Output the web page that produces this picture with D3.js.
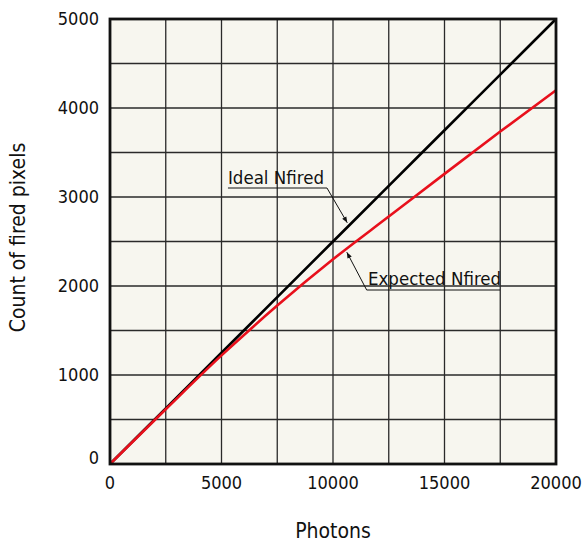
<!DOCTYPE html>
<html>
<head>
<meta charset="utf-8">
<script src="https://cdn.jsdelivr.net/npm/d3@7"></script>
<style>
  body { margin: 0; background: #fff; }
  text { font-family: "DejaVu Sans Condensed", "DejaVu Sans", sans-serif; fill: #111; }
</style>
</head>
<body>
<div id="wrapper"></div>
<script>
// data
const photons = [0, 2500, 5000, 7500, 10000, 12500, 15000, 17500, 20000]
const idealNfired = [0, 625, 1250, 1875, 2500, 3125, 3750, 4375, 5000]
const expectedNfired = [0, 615, 1220, 1780, 2300, 2780, 3260, 3735, 4200]

const xTicks = [0, 5000, 10000, 15000, 20000]
const yTicks = [0, 1000, 2000, 3000, 4000, 5000]

// labels with leader lines (data units)
const labels = [
  { text: "Ideal Nfired", tx: 5290, ty: 3146, lx1: 5290, lx2: 9730, ly: 3101, ax: 10640, ay: 2710 },
  { text: "Expected Nfired", tx: 11570, ty: 2011, lx1: 11510, lx2: 17490, ly: 1955, ax: 10620, ay: 2380 },
]

function drawChart() {
  const dims = {
    width: 586,
    height: 545,
    margin: { top: 19, right: 30, bottom: 81, left: 110 }
  }
  dims.boundedWidth = dims.width - dims.margin.left - dims.margin.right
  dims.boundedHeight = dims.height - dims.margin.top - dims.margin.bottom

  const svg = d3.select("#wrapper").append("svg")
    .attr("width", dims.width)
    .attr("height", dims.height)

  const defs = svg.append("defs")
  defs.append("marker")
    .attr("id", "arrow")
    .attr("viewBox", "0 0 10 10")
    .attr("refX", 10).attr("refY", 5)
    .attr("markerWidth", 8).attr("markerHeight", 6)
    .attr("markerUnits", "userSpaceOnUse")
    .attr("orient", "auto")
    .append("path")
    .attr("d", "M0,1 L10,5 L0,9 Z")
    .attr("fill", "#111")

  const bounds = svg.append("g")
    .attr("transform", `translate(${dims.margin.left},${dims.margin.top})`)

  const xScale = d3.scaleLinear().domain([0, 20000]).range([0, dims.boundedWidth])
  const yScale = d3.scaleLinear().domain([0, 5000]).range([dims.boundedHeight, 0])

  bounds.append("rect")
    .attr("width", dims.boundedWidth)
    .attr("height", dims.boundedHeight)
    .attr("fill", "#f7f6ef")

  // grid
  bounds.append("g")
    .selectAll("line")
    .data(d3.range(2500, 20000, 2500))
    .join("line")
    .attr("x1", d => xScale(d)).attr("x2", d => xScale(d))
    .attr("y1", 0).attr("y2", dims.boundedHeight)
    .attr("stroke", "#2a2a2a").attr("stroke-width", 1.3)

  bounds.append("g")
    .selectAll("line")
    .data(d3.range(500, 5000, 500))
    .join("line")
    .attr("y1", d => yScale(d)).attr("y2", d => yScale(d))
    .attr("x1", 0).attr("x2", dims.boundedWidth)
    .attr("stroke", "#2a2a2a").attr("stroke-width", 1.3)

  // lines
  const ideal = photons.map((p, i) => [p, idealNfired[i]])
  const expected = photons.map((p, i) => [p, expectedNfired[i]])

  const lineGen = d3.line()
    .x(d => xScale(d[0]))
    .y(d => yScale(d[1]))
    .curve(d3.curveMonotoneX)

  bounds.append("path")
    .attr("d", lineGen(ideal))
    .attr("fill", "none")
    .attr("stroke", "#000")
    .attr("stroke-width", 2.6)

  bounds.append("path")
    .attr("d", lineGen(expected))
    .attr("fill", "none")
    .attr("stroke", "#e8101c")
    .attr("stroke-width", 2.6)

  // frame
  bounds.append("rect")
    .attr("width", dims.boundedWidth)
    .attr("height", dims.boundedHeight)
    .attr("fill", "none")
    .attr("stroke", "#111")
    .attr("stroke-width", 2.8)

  // annotations
  const ann = bounds.append("g")
  labels.forEach(l => {
    ann.append("text")
      .attr("x", xScale(l.tx))
      .attr("y", yScale(l.ty))
      .style("font-size", "18.5px")
      .text(l.text)
    ann.append("line")
      .attr("x1", xScale(l.lx1)).attr("x2", xScale(l.lx2))
      .attr("y1", yScale(l.ly)).attr("y2", yScale(l.ly))
      .attr("stroke", "#111").attr("stroke-width", 1)
    const startX = l.ax < l.lx1 ? l.lx1 : l.lx2
    ann.append("line")
      .attr("x1", xScale(startX)).attr("y1", yScale(l.ly))
      .attr("x2", xScale(l.ax)).attr("y2", yScale(l.ay))
      .attr("stroke", "#111").attr("stroke-width", 1)
      .attr("marker-end", "url(#arrow)")
  })

  // tick labels
  bounds.append("g")
    .selectAll("text")
    .data(xTicks)
    .join("text")
    .attr("x", d => xScale(d))
    .attr("y", dims.boundedHeight + 25)
    .attr("text-anchor", "middle")
    .style("font-size", "18px")
    .text(d => d)

  bounds.append("g")
    .selectAll("text")
    .data(yTicks)
    .join("text")
    .attr("x", -11)
    .attr("y", d => d === 0 ? yScale(d) - 6 : yScale(d))
    .attr("dy", "0.35em")
    .attr("text-anchor", "end")
    .style("font-size", "18px")
    .text(d => d)

  // axis titles
  bounds.append("text")
    .attr("x", dims.boundedWidth / 2)
    .attr("y", dims.boundedHeight + 74)
    .attr("text-anchor", "middle")
    .style("font-size", "21px")
    .text("Photons")

  bounds.append("text")
    .attr("transform", `translate(${-dims.margin.left + 25},${dims.boundedHeight / 2 - 4}) rotate(-90)`)
    .attr("text-anchor", "middle")
    .style("font-size", "21px")
    .text("Count of fired pixels")
}

drawChart()
</script>
</body>
</html>
